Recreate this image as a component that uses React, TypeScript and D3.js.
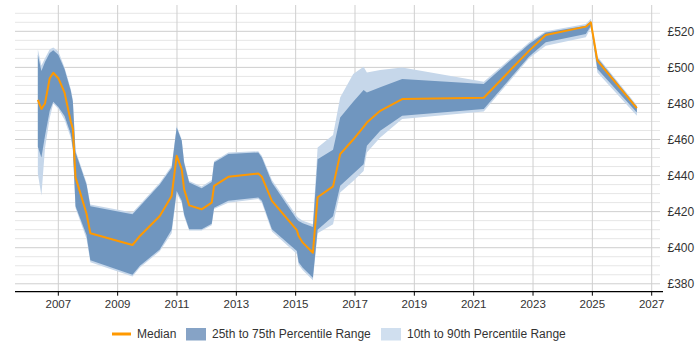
import React from "react";
import { scaleLinear, area, line, range } from "d3";

// Fechas en años decimales
const years = [
  2006.31, 2006.43, 2006.55, 2006.71, 2006.83, 2007.0, 2007.21, 2007.42, 2007.49, 2007.58,
  2007.95, 2008.08, 2009.5, 2009.75, 2010.42, 2010.82, 2010.99, 2011.16, 2011.24, 2011.41,
  2011.83, 2012.17, 2012.25, 2012.73, 2013.74, 2013.86, 2014.2, 2015.04, 2015.1, 2015.24,
  2015.58, 2015.74, 2016.26, 2016.5, 2016.94, 2017.29, 2017.4, 2017.85, 2018.59, 2021.34,
  2022.87, 2023.43, 2024.78, 2024.95, 2025.17, 2026.5,
];
const median = [
  482, 477, 480, 494, 497, 494, 486, 470, 466, 439,
  419, 408, 401.5, 406.5, 417.6, 428.7, 451, 443.6, 432.4, 423.5,
  421.3, 425, 434.3, 439.3, 441.1, 439.3, 426, 409.7, 406.5, 402.8,
  397.2, 428, 434, 451.9, 460, 467, 469.4, 475.9, 482.4, 483.2,
  509.3, 518, 522.6, 525, 503.7, 477.4,
];
const p25 = [
  456, 450, 462, 476, 481, 478, 473, 463, 455, 423,
  407, 393, 385, 390, 399, 410, 431.5, 426, 418.6, 410.2,
  410.2, 413.3, 422.2, 426, 427.8, 426, 410.2, 398.2, 392, 388.9,
  383.3, 410, 417.5, 434.3, 441, 446.3, 456.5, 464.8, 473.2, 476.9,
  506, 513.9, 518.5, 523, 499.1, 475,
];
const p75 = [
  507, 498, 503, 508, 509.5, 507, 499, 487, 481, 453,
  435, 423, 418.6, 423, 435, 444.4, 466.7, 459.3, 447, 436.1,
  433, 436.5, 447.2, 451.9, 452.8, 450, 436.1, 415.8, 414.8, 413.5,
  411.5, 449.1, 454.3, 472.2, 481, 487.4, 486.1, 489, 493.6, 490.8,
  513, 519.4, 523.1, 525.6, 505.2, 478.2,
];
const p10 = [
  441, 429, 455, 472, 480, 477, 471, 461, 454, 422,
  405, 392, 384, 389, 398, 408, 430, 425, 417.5, 409.5,
  409.5, 412.5, 421.5, 425, 427, 425, 409, 396.5, 390.5, 387.5,
  382, 408, 413, 430.6, 437, 442.6, 452.8, 461.1, 471.4, 475.5,
  505, 512, 516.7, 522, 497.2, 473.2,
];
const p90 = [
  510, 501, 505, 510, 511, 509, 500, 488, 482, 454,
  436, 424, 419.5, 424, 436, 445.5, 467.5, 460, 448, 437,
  434, 437.5, 448, 452.8, 453.5, 451, 437.5, 417.5, 416.5, 415,
  413, 455.6, 462.5, 483.3, 496.3, 500.4, 497.2, 498.5, 500, 492,
  514, 520, 524, 527, 506, 479,
];

const xTicks = [2007, 2009, 2011, 2013, 2015, 2017, 2019, 2021, 2023, 2025, 2027];
const yTicks = [380, 400, 420, 440, 460, 480, 500, 520];

const labels = {
  median: "Median",
  iqr: "25th to 75th Percentile Range",
  outer: "10th to 90th Percentile Range",
};

export default function App() {
  const width = 700;
  const height = 350;
  const plot = { left: 15, right: 660, top: 5, bottom: 291.7 };
  const font = "'Liberation Sans', Arial, sans-serif";

  const x = scaleLinear().domain([2005.54, 2027.28]).range([plot.left, plot.right]);
  const y = scaleLinear().domain([375.6, 534.6]).range([plot.bottom, plot.top]);

  const rows = years.map((yr, i) => ({
    yr,
    med: median[i],
    lo: p25[i],
    hi: p75[i],
    lo2: p10[i],
    hi2: p90[i],
  }));
  type Row = (typeof rows)[number];

  const outerArea = area<Row>()
    .x((d) => x(d.yr))
    .y0((d) => y(d.lo2))
    .y1((d) => y(d.hi2));
  const iqrArea = area<Row>()
    .x((d) => x(d.yr))
    .y0((d) => y(d.lo))
    .y1((d) => y(d.hi));
  const medLine = line<Row>()
    .x((d) => x(d.yr))
    .y((d) => y(d.med));

  // líneas de cuadrícula cada 5
  const minor = range(380, 535, 5);

  return (
    <svg
      width={width}
      height={height}
      style={{ position: "absolute", left: 0, top: 0, fontFamily: font }}
    >
      <rect x={0} y={0} width={width} height={height} fill="#fff" />
      {/* Cuadrícula */}
      {minor.map((v) => (
        <line
          key={`h-${v}`}
          x1={plot.left}
          x2={plot.right}
          y1={y(v)}
          y2={y(v)}
          stroke={v % 20 === 0 ? "#cfcfcf" : "#e6e6e6"}
          strokeWidth={1}
        />
      ))}
      {xTicks.map((t) => (
        <line
          key={`v-${t}`}
          x1={x(t)}
          x2={x(t)}
          y1={plot.top}
          y2={plot.bottom}
          stroke="#cfcfcf"
          strokeWidth={1}
        />
      ))}

      {/* Bandas */}
      <path d={outerArea(rows) ?? ""} fill="#c6d7ea" />
      <path d={iqrArea(rows) ?? ""} fill="#7096bf" />
      <path
        d={medLine(rows) ?? ""}
        fill="none"
        stroke="#ff9900"
        strokeWidth={2}
        strokeLinejoin="round"
      />

      {/* Eje X */}
      <line x1={plot.left} x2={plot.right + 3} y1={plot.bottom} y2={plot.bottom} stroke="#000" strokeWidth={1.3} />
      {xTicks.map((t) => (
        <g key={`xt-${t}`}>
          <line x1={x(t)} x2={x(t)} y1={plot.bottom} y2={plot.bottom + 4} stroke="#000" />
          <text x={x(t)} y={308} textAnchor="middle" fontSize={11.5} fill="#333">
            {t}
          </text>
        </g>
      ))}

      {/* Eje Y derecho */}
      {yTicks.map((t) => (
        <text key={`yt-${t}`} x={667.5} y={y(t) + 4.3} textAnchor="start" fontSize={12} fill="#333">
          £{t}
        </text>
      ))}

      {/* Leyenda */}
      <g transform="translate(0, 334)">
        <line x1={112} x2={131} y1={0} y2={0} stroke="#ff9900" strokeWidth={3} />
        <text x={137} y={4.3} fontSize={12} fill="#333">
          {labels.median}
        </text>
        <rect x={186} y={-6} width={20} height={12.5} fill="#86a3c6" />
        <text x={212} y={4.3} fontSize={12} fill="#333">
          {labels.iqr}
        </text>
        <rect x={381} y={-6} width={20} height={12.5} fill="#d0dfef" />
        <text x={407} y={4.3} fontSize={12} fill="#333">
          {labels.outer}
        </text>
      </g>
    </svg>
  );
}
